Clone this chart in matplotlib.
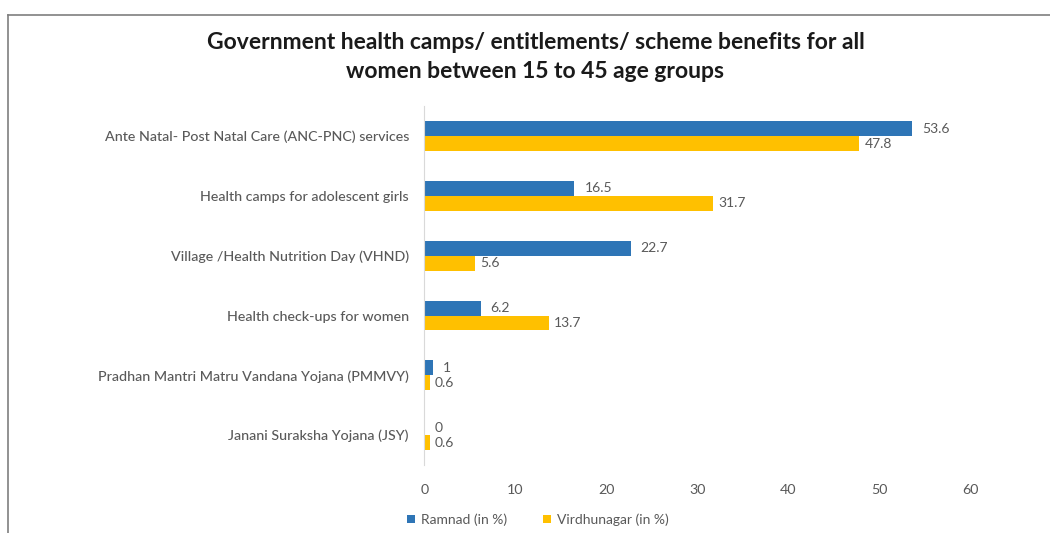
import numpy as np
import matplotlib.pyplot as plt
from matplotlib.lines import Line2D

plt.rcParams['font.family'] = ['Lato', 'DejaVu Sans']

# Survey results (in %)
categories = [
    'Ante Natal- Post Natal Care (ANC-PNC) services',
    'Health camps for adolescent girls',
    'Village /Health Nutrition Day (VHND)',
    'Health check-ups for women',
    'Pradhan Mantri Matru Vandana Yojana (PMMVY)',
    'Janani Suraksha Yojana (JSY)',
]
ramnad = [53.6, 16.5, 22.7, 6.2, 1, 0]
virdhunagar = [47.8, 31.7, 5.6, 13.7, 0.6, 0.6]
xticks = [0, 10, 20, 30, 40, 50, 60]

blue = '#2E75B6'
yellow = '#FFC000'
grey = '#595959'

fig = plt.figure(figsize=(10.5, 5.33), dpi=100)
ax = fig.add_axes([0.404, 0.1276, 0.52, 0.673])

y = np.arange(len(categories))
h = 0.25
ax.barh(y - h / 2, ramnad, height=h, color=blue, label='Ramnad (in %)')
ax.barh(y + h / 2, virdhunagar, height=h, color=yellow, label='Virdhunagar (in %)')

for yi, v in zip(y, ramnad):
    ax.text(v + 1.1, yi - h / 2, f'{v:g}', va='center', ha='left', fontsize=10, color=grey)
for yi, v in zip(y, virdhunagar):
    ax.text(v + 0.6, yi + h / 2, f'{v:g}', va='center', ha='left', fontsize=10, color=grey)

ax.set_xlim(0, 60)
ax.set_ylim(len(categories) - 0.5, -0.5)
ax.set_xticks(xticks)
ax.set_yticks(y)
ax.set_yticklabels(categories, fontweight='medium')
ax.tick_params(axis='both', length=0, labelsize=10.3, labelcolor=grey)
ax.tick_params(axis='y', pad=11)
ax.tick_params(axis='x', pad=14)
for s in ['top', 'right', 'bottom']:
    ax.spines[s].set_visible(False)
ax.spines['left'].set_color('#D9D9D9')

fig.text(0.51, 0.893, 'Government health camps/ entitlements/ scheme benefits for all\nwomen between 15 to 45 age groups',
         ha='center', va='center', fontsize=16.5, fontweight='bold', color='#1a1a1a', linespacing=1.45)

ax.legend(loc='center', bbox_to_anchor=(0.512, 0.025), bbox_transform=fig.transFigure,
          ncol=2, frameon=False, fontsize=10, labelcolor=grey, handlelength=0.6,
          handleheight=0.6, handletextpad=0.4, columnspacing=2.6)

# frame lines at top and left
fig.add_artist(Line2D([0.0076, 1.0], [0.972, 0.972], transform=fig.transFigure, color='#7f7f7f', lw=1.2))
fig.add_artist(Line2D([0.0076, 0.0076], [0.0, 0.972], transform=fig.transFigure, color='#7f7f7f', lw=1.2))

fig.savefig('out.png', dpi=100)
